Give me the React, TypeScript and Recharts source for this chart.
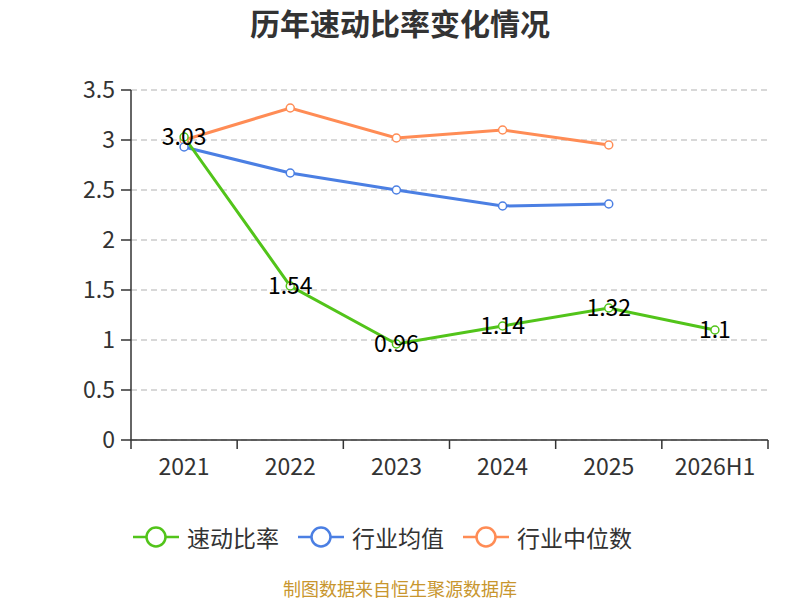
import { LineChart, Line, XAxis, YAxis, CartesianGrid, LabelList } from "recharts";

const categories: string[] = ["2021", "2022", "2023", "2024", "2025", "2026H1"];
const quickRatio: number[] = [3.03, 1.54, 0.96, 1.14, 1.32, 1.1];
const industryMean: (number | null)[] = [2.93, 2.67, 2.5, 2.34, 2.36, null];
const industryMedian: (number | null)[] = [3.0, 3.32, 3.02, 3.1, 2.95, null];
const yTicks: number[] = [0, 0.5, 1, 1.5, 2, 2.5, 3, 3.5];
const xTicks: number[] = [-0.5, 0, 0.5, 1, 1.5, 2, 2.5, 3, 3.5, 4, 4.5, 5, 5.5];

const FONT = "'Noto Sans CJK SC', 'Noto Sans', sans-serif";
const GREEN = "#52c41a";
const BLUE = "#4b7fe3";
const ORANGE = "#ff8c55";

const data = categories.map((name, i) => ({
  idx: i,
  name,
  quick: quickRatio[i],
  mean: industryMean[i],
  median: industryMedian[i],
}));

const legendItems = [
  { label: "速动比率", color: GREEN },
  { label: "行业均值", color: BLUE },
  { label: "行业中位数", color: ORANGE },
];

function XTick(props: any) {
  const { x, payload } = props;
  const v = payload.value as number;
  const axisY = 440;
  if (Number.isInteger(v)) {
    return (
      <text x={x} y={axisY + 25} textAnchor="middle" dominantBaseline="central" fontSize={23} fill="#333" fontFamily={FONT}>
        {categories[v]}
      </text>
    );
  }
  return <line x1={x} y1={axisY} x2={x} y2={axisY + 9} stroke="#333" strokeWidth={1.5} />;
}

function PointLabel(props: any) {
  const { x, y, value } = props;
  return (
    <text x={x} y={y - 2} textAnchor="middle" dominantBaseline="central" fontSize={23} fill="#000" fontFamily={FONT}>
      {value}
    </text>
  );
}

function LegendIcon({ color }: { color: string }) {
  return (
    <svg width={46} height={24}>
      <line x1={0} y1={12} x2={46} y2={12} stroke={color} strokeWidth={2.5} />
      <circle cx={23} cy={12} r={9.5} fill="#fff" stroke={color} strokeWidth={2.5} />
    </svg>
  );
}

export default function App() {
  return (
    <div style={{ position: "absolute", left: 0, top: 0, width: 800, height: 600, background: "#fff", fontFamily: FONT }}>
      <div style={{ position: "absolute", top: 2, width: 800, textAlign: "center", fontSize: 30, lineHeight: "40px", fontWeight: "bold", color: "#333" }}>
        历年速动比率变化情况
      </div>
      <LineChart width={800} height={600} data={data} margin={{ top: 90, right: 32, bottom: 130, left: 0 }}>
        <CartesianGrid horizontal vertical={false} stroke="#ccc" strokeDasharray="6 4" strokeWidth={1.5} />
        <XAxis
          dataKey="idx"
          type="number"
          domain={[-0.5, 5.5]}
          ticks={xTicks}
          interval={0}
          tick={<XTick />}
          tickLine={false}
          axisLine={{ stroke: "#333", strokeWidth: 1.5 }}
          height={30}
        />
        <YAxis
          domain={[0, 3.5]}
          ticks={yTicks}
          interval={0}
          width={131}
          tick={{ fontSize: 23, fill: "#333", fontFamily: FONT }}
          tickLine={{ stroke: "#333", strokeWidth: 1.5 }}
          tickSize={10}
          tickMargin={6}
          axisLine={{ stroke: "#333", strokeWidth: 1.5 }}
        />
        <Line
          dataKey="median"
          stroke={ORANGE}
          strokeWidth={3}
          dot={{ r: 4, fill: "#fff", stroke: ORANGE, strokeWidth: 1.5 }}
          isAnimationActive={false}
        />
        <Line
          dataKey="mean"
          stroke={BLUE}
          strokeWidth={3}
          dot={{ r: 4, fill: "#fff", stroke: BLUE, strokeWidth: 1.5 }}
          isAnimationActive={false}
        />
        <Line
          dataKey="quick"
          stroke={GREEN}
          strokeWidth={3}
          dot={{ r: 4, fill: "#fff", stroke: GREEN, strokeWidth: 1.5 }}
          isAnimationActive={false}
        >
          <LabelList dataKey="quick" content={<PointLabel />} />
        </Line>
      </LineChart>
      <div style={{ position: "absolute", top: 522, left: 133, display: "flex", alignItems: "center", fontSize: 23, lineHeight: "30px", color: "#333" }}>
        {legendItems.map((item) => (
          <div key={item.label} style={{ display: "flex", alignItems: "center", marginRight: 19 }}>
            <LegendIcon color={item.color} />
            <span style={{ marginLeft: 8 }}>{item.label}</span>
          </div>
        ))}
      </div>
      <div style={{ position: "absolute", top: 577, width: 800, textAlign: "center", fontSize: 18, lineHeight: "22px", color: "#c8962e" }}>
        制图数据来自恒生聚源数据库
      </div>
    </div>
  );
}
